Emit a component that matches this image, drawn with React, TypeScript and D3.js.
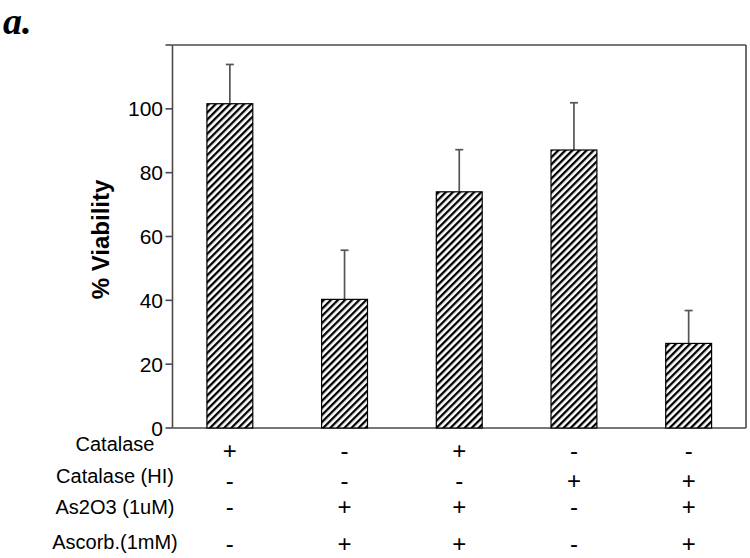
import React from "react";
import * as d3 from "d3";

const categories = ["g1", "g2", "g3", "g4", "g5"];
const viability = [101.6, 40.3, 74.0, 87.1, 26.5];
const errorUpper = [113.9, 55.7, 87.2, 101.9, 36.8];
const yTicks = [0, 20, 40, 60, 80, 100, 120];
const yTickLabels = ["0", "20", "40", "60", "80", "100", ""];
const rowLabels = ["Catalase", "Catalase (HI)", "As2O3 (1uM)", "Ascorb.(1mM)"];
const rowSigns = [
  ["+", "-", "+", "-", "-"],
  ["-", "-", "-", "+", "+"],
  ["-", "+", "+", "-", "+"],
  ["-", "+", "+", "-", "+"],
];

const W = 750;
const H = 558;
const left = 172.5;
const right = 746;
const top = 45;
const bottom = 428;

export default function App() {
  const x = d3
    .scaleBand<string>()
    .domain(categories)
    .range([left, right])
    .paddingInner(0.6)
    .paddingOuter(0.3);
  const y = d3.scaleLinear().domain([0, 120]).range([bottom, top]);
  const rowY = [444, 476, 507, 542];
  const signY = [450, 480, 506, 543];
  const axisColor = "#4a4a4a";
  const font = "Liberation Sans, Arial, sans-serif";
  const hp = 5.0;

  return (
    <svg
      width={W}
      height={H}
      style={{ position: "absolute", left: 0, top: 0, background: "#fff" }}
    >
      <defs>
        <pattern
          id="hatch"
          patternUnits="userSpaceOnUse"
          width={hp}
          height={hp}
          patternTransform="rotate(45)"
        >
          <rect width={hp} height={hp} fill="#fff" />
          <rect x={0} y={0} width={2.3} height={hp} fill="#000" />
        </pattern>
      </defs>
      <text
        x={3}
        y={34}
        fontFamily="Liberation Serif, Times New Roman, serif"
        fontWeight="bold"
        fontStyle="italic"
        fontSize={38}
        fill="#000"
      >
        a.
      </text>
      <line x1={left} x2={left} y1={top} y2={bottom} stroke={axisColor} strokeWidth={1.6} />
      <line x1={right} x2={right} y1={top} y2={bottom} stroke={axisColor} strokeWidth={1.6} />
      <line x1={left} x2={right} y1={top} y2={top} stroke={axisColor} strokeWidth={1.6} />
      <line x1={left} x2={right} y1={bottom} y2={bottom} stroke={axisColor} strokeWidth={1.6} />
      {yTicks.map((t, i) => (
        <g key={t}>
          <line x1={left - 7} x2={left} y1={y(t)} y2={y(t)} stroke={axisColor} strokeWidth={1.6} />
          <text
            x={left - 9.5}
            y={y(t)}
            dy="0.36em"
            textAnchor="end"
            fontFamily={font}
            fontSize={21}
            fill="#000"
          >
            {yTickLabels[i]}
          </text>
        </g>
      ))}
      <text
        transform={`translate(101,${(top + bottom) / 2 + 3}) rotate(-90)`}
        textAnchor="middle"
        dy="0.35em"
        fontFamily={font}
        fontWeight="bold"
        fontSize={24}
        fill="#000"
      >
        % Viability
      </text>
      {categories.map((c, i) => {
        const cx = (x(c) as number) + x.bandwidth() / 2;
        return (
          <g key={c}>
            <line
              x1={cx}
              x2={cx}
              y1={y(viability[i])}
              y2={y(errorUpper[i])}
              stroke="#555"
              strokeWidth={1.7}
            />
            <line
              x1={cx - 4}
              x2={cx + 4}
              y1={y(errorUpper[i])}
              y2={y(errorUpper[i])}
              stroke="#555"
              strokeWidth={1.7}
            />
            <rect
              x={x(c)}
              y={y(viability[i])}
              width={x.bandwidth()}
              height={bottom - y(viability[i])}
              fill="url(#hatch)"
              stroke="#000"
              strokeWidth={1.2}
            />
          </g>
        );
      })}
      {rowLabels.map((lab, r) => (
        <text
          key={lab}
          x={115}
          y={rowY[r]}
          dy="0.36em"
          textAnchor="middle"
          fontFamily={font}
          fontSize={20}
          fill="#000"
        >
          {lab}
        </text>
      ))}
      {rowSigns.map((row, r) =>
        row.map((s, i) => {
          const cx = (x(categories[i]) as number) + x.bandwidth() / 2;
          return (
            <text
              key={`${r}-${i}`}
              x={cx}
              y={signY[r]}
              dy="0.36em"
              textAnchor="middle"
              fontFamily={font}
              fontSize={24}
              fill="#000"
            >
              {s}
            </text>
          );
        })
      )}
    </svg>
  );
}
